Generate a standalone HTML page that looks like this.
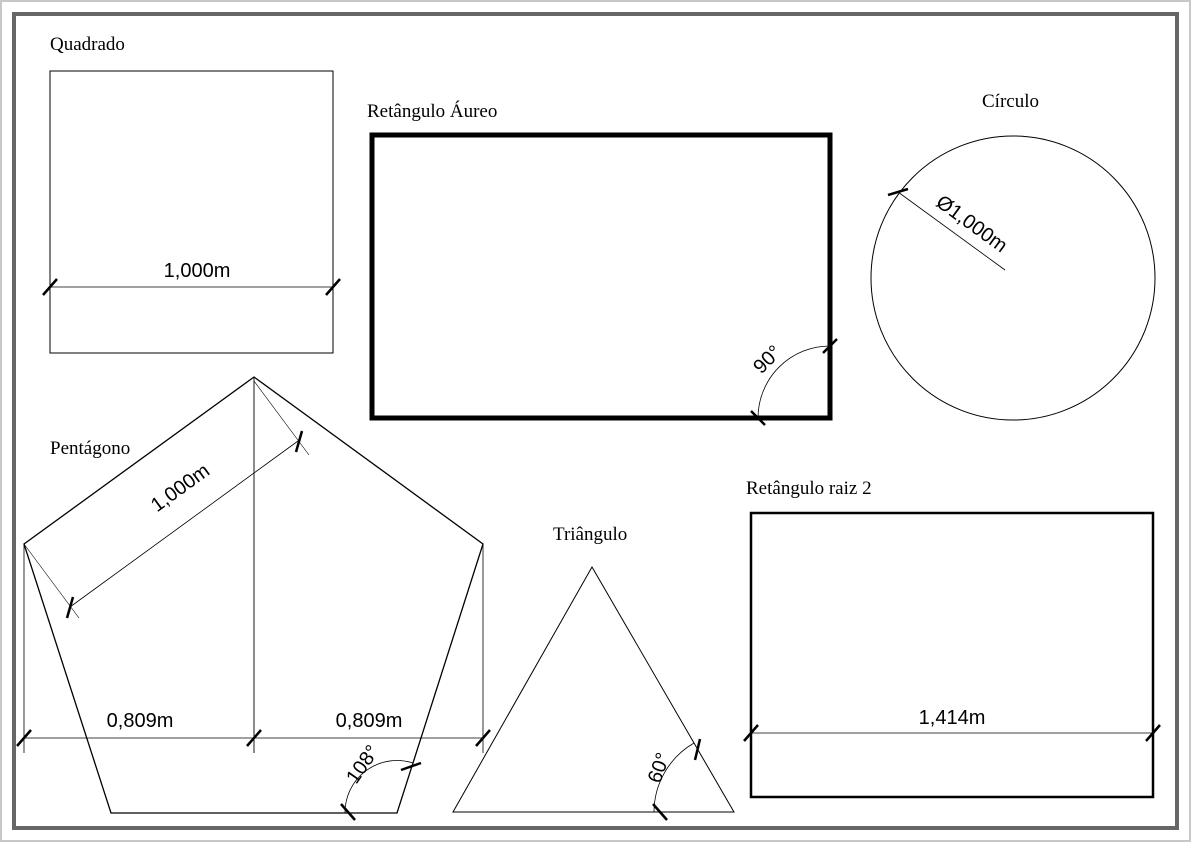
<!DOCTYPE html>
<html><head><meta charset="utf-8"><style>
html,body{margin:0;padding:0;background:#fff;}
svg{display:block;}
.s{font-family:"Liberation Serif",serif;font-size:19px;fill:#000;}
.a{font-family:"Liberation Sans",sans-serif;font-size:20px;fill:#000;}
</style></head><body>
<svg width="1191" height="842" viewBox="0 0 1191 842" xmlns="http://www.w3.org/2000/svg">
<rect x="1" y="1" width="1189" height="840" fill="none" stroke="#c8c8c8" stroke-width="2"/>
<rect x="14" y="14" width="1163" height="814" fill="none" stroke="#666" stroke-width="4"/>
<g fill="none" stroke="#000">
<rect x="50" y="71" width="283" height="282" stroke-width="1"/>
<line x1="50" y1="287" x2="333" y2="287" stroke-width="0.8"/>
<line x1="43" y1="295" x2="57" y2="279" stroke-width="2.5"/>
<line x1="326" y1="295" x2="340" y2="279" stroke-width="2.5"/>
<rect x="372" y="135" width="458" height="283" stroke-width="5"/>
<path d="M758 418 A72 72 0 0 1 830 346" stroke-width="0.8"/>
<line x1="751" y1="411" x2="765" y2="425" stroke-width="2.5"/>
<line x1="823" y1="353" x2="837" y2="339" stroke-width="2.5"/>
<circle cx="1013" cy="278" r="142" stroke-width="1"/>
<line x1="898" y1="192" x2="1005" y2="270" stroke-width="0.8"/>
<line x1="888" y1="195" x2="908" y2="189" stroke-width="2.5"/>
<polygon points="254,377 483,544 397,813 111,813 24,544" stroke-width="1.3"/>
<line x1="254" y1="377" x2="254" y2="753" stroke-width="0.9"/>
<line x1="24" y1="544" x2="24" y2="753" stroke-width="0.8"/>
<line x1="483" y1="544" x2="483" y2="753" stroke-width="0.8"/>
<line x1="24" y1="738" x2="483" y2="738" stroke-width="0.8"/>
<line x1="17" y1="746" x2="31" y2="730" stroke-width="2.5"/>
<line x1="247" y1="746" x2="261" y2="730" stroke-width="2.5"/>
<line x1="476" y1="746" x2="490" y2="730" stroke-width="2.5"/>
<line x1="24" y1="544" x2="79" y2="618" stroke-width="0.6"/>
<line x1="254" y1="381" x2="309" y2="455" stroke-width="0.6"/>
<line x1="70" y1="607" x2="298" y2="441" stroke-width="0.8"/>
<line x1="73" y1="597" x2="67" y2="618" stroke-width="2.5"/>
<line x1="302" y1="431" x2="296" y2="452" stroke-width="2.5"/>
<path d="M345 813 A52 52 0 0 1 413 763" stroke-width="0.8"/>
<line x1="341" y1="804" x2="355" y2="820" stroke-width="2.5"/>
<line x1="401" y1="770" x2="421" y2="763" stroke-width="2.5"/>
<polygon points="592,567 734,812 453,812" stroke-width="1"/>
<path d="M654 812 A80 80 0 0 1 694 743" stroke-width="0.8"/>
<line x1="653" y1="804" x2="667" y2="820" stroke-width="2.5"/>
<line x1="700" y1="739" x2="695" y2="760" stroke-width="2.5"/>
<rect x="751" y="513" width="402" height="284" stroke-width="2.5"/>
<line x1="751" y1="733" x2="1153" y2="733" stroke-width="0.8"/>
<line x1="744" y1="741" x2="758" y2="725" stroke-width="2.5"/>
<line x1="1146" y1="741" x2="1160" y2="725" stroke-width="2.5"/>
</g>
<text class="s" x="50" y="50">Quadrado</text>
<text class="s" x="367" y="117">Retângulo Áureo</text>
<text class="s" x="982" y="107">Círculo</text>
<text class="s" x="50" y="454">Pentágono</text>
<text class="s" x="553" y="540">Triângulo</text>
<text class="s" x="746" y="494">Retângulo raiz 2</text>
<text class="a" x="197" y="277" text-anchor="middle">1,000m</text>
<text class="a" x="140" y="727" text-anchor="middle">0,809m</text>
<text class="a" x="369" y="727" text-anchor="middle">0,809m</text>
<text class="a" x="952" y="724" text-anchor="middle">1,414m</text>
<text class="a" text-anchor="middle" transform="translate(184,493) rotate(-36)">1,000m</text>
<text class="a" text-anchor="middle" transform="translate(968,229) rotate(36)">Ø1,000m</text>
<text class="a" text-anchor="middle" transform="translate(772,364) rotate(-45)">90°</text>
<text class="a" text-anchor="middle" transform="translate(368,768) rotate(-55)">108°</text>
<text class="a" text-anchor="middle" transform="translate(665,770) rotate(-70)">60°</text>
</svg>
</body></html>
